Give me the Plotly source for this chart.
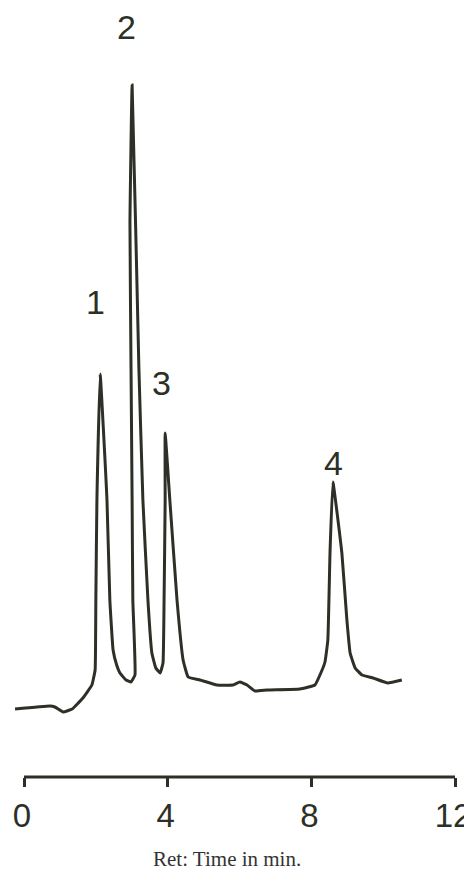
import plotly.graph_objects as go

# Retention time (min) and detector response (arbitrary units)
time_min = [-0.25, 0.72, 0.86, 1.09, 1.34, 1.64, 1.89, 1.98, 2.00, 2.03, 2.12,
            2.31, 2.39, 2.48, 2.58, 2.67, 2.84, 2.98, 3.09, 3.03, 3.01, 2.98, 2.95,
            3.01, 3.20, 3.31, 3.45, 3.56, 3.67, 3.79, 3.87, 3.90, 3.93, 3.93,
            4.06, 4.26, 4.43, 4.57, 4.90, 5.37, 5.82, 6.01, 6.21, 6.43, 6.77,
            7.68, 8.10, 8.24, 8.38, 8.46, 8.52, 8.60, 8.85, 8.99, 9.08, 9.22,
            9.41, 9.72, 10.13, 10.52]
response = [0, 3, 2, -3, 0, 11, 24, 39, 109, 209, 335,
            209, 109, 59, 44, 36, 29, 27, 34, 109, 209, 339, 486,
            624, 339, 209, 109, 56, 41, 36, 46, 109, 209, 276,
            209, 109, 49, 32, 29, 24, 24, 27, 24, 18, 19,
            20, 24, 34, 47, 69, 156, 227, 156, 89, 56, 41,
            34, 31, 26, 29]

peak_labels = ["1", "2", "3", "4"]
peak_label_time = [2.00, 2.84, 3.84, 8.63]
peak_label_resp = [407, 682, 326, 246]

tick_vals = [0, 4, 8, 12]
tick_text = ["0", "4", "8", "12"]
x_title = "Ret: Time in min."

ink = "#2c3026"
digit_font = "Liberation Sans, Arial, sans-serif"

fig = go.Figure()
fig.add_trace(go.Scatter(
    x=time_min, y=response, mode="lines",
    line=dict(color=ink, width=3, shape="spline", smoothing=0.3),
    hoverinfo="skip", showlegend=False,
))

for lab, t, r in zip(peak_labels, peak_label_time, peak_label_resp):
    fig.add_annotation(x=t, y=r, text=lab, showarrow=False,
                       font=dict(family=digit_font, size=34, color=ink),
                       xanchor="center", yanchor="middle")

fig.add_annotation(x=5.65, y=-0.1066, xref="x", yref="paper", text=x_title,
                   showarrow=False, xanchor="center", yanchor="middle",
                   font=dict(family="Liberation Serif, Times New Roman, serif",
                             size=21, color="#333333"))

# axis baseline from 0 to 12
fig.add_shape(type="line", xref="x", yref="paper", x0=0, x1=12, y0=0, y1=0,
              line=dict(color=ink, width=3))

# the page body adds an 8px offset, so the figure is 8px smaller than the window
fig.update_layout(
    width=464, height=865,
    margin=dict(l=2, r=10, t=0, b=96, autoexpand=False),
    paper_bgcolor="white", plot_bgcolor="white",
    xaxis=dict(range=[-0.39, 12.195], tickvals=tick_vals, ticktext=tick_text,
               ticks="outside", ticklen=9, tickwidth=3, tickcolor=ink,
               showline=False, showgrid=False, zeroline=False,
               automargin=False, ticklabeloverflow="allow", ticklabelshift=-2,
               tickfont=dict(family=digit_font, size=33, color=ink)),
    yaxis=dict(range=[-68, 701], visible=False, showgrid=False, zeroline=False,
               automargin=False),
)

fig.write_html("out.html")
